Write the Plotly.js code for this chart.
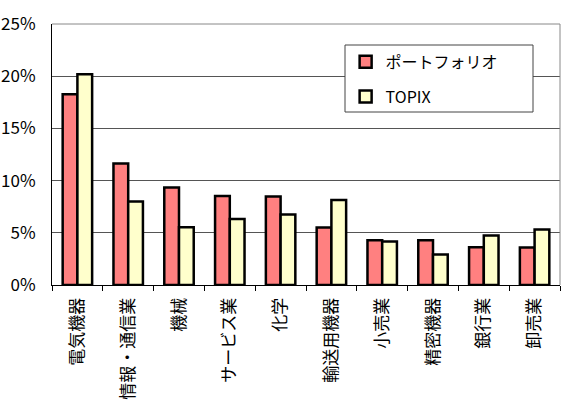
<!DOCTYPE html>
<html><head><meta charset="utf-8">
<script src="https://cdn.plot.ly/plotly-3.0.1.min.js"></script>
<style>body{margin:0;background:#fff}#c{width:565px;height:405px}</style>
</head><body><div id="c"></div>
<script>
const categories = ["電気機器","情報・通信業","機械","サービス業","化学","輸送用機器","小売業","精密機器","銀行業","卸売業"];
const portfolio = [18.26, 11.64, 9.34, 8.53, 8.48, 5.5, 4.29, 4.29, 3.62, 3.59];
const topix = [20.18, 8.0, 5.53, 6.33, 6.75, 8.15, 4.16, 2.92, 4.74, 5.31];
const seriesNames = ["ポートフォリオ", "TOPIX"];
const yTicks = [0, 5, 10, 15, 20, 25];
const yTickLabels = ["0%", "5%", "10%", "15%", "20%", "25%"];

const font = "'Noto Sans CJK JP', 'DejaVu Sans', sans-serif";
const traces = [
  {type:"bar", name:seriesNames[0], x:categories, y:portfolio, legendgroup:"a",
   marker:{color:"#FF8080", line:{color:"#000", width:2.5}}},
  {type:"bar", name:seriesNames[1], x:categories, y:topix, legendgroup:"b",
   marker:{color:"#FFFFCC", line:{color:"#000", width:2.5}}}
];
const layout = {
  width:565, height:405,
  margin:{l:52, r:5, t:24, b:120, pad:0},
  paper_bgcolor:"#fff", plot_bgcolor:"#fff",
  font:{family:font, color:"#000", size:14},
  barmode:"group", bargap:0.42, bargroupgap:0,
  showlegend:true,
  legend:{x:0.578, y:0.92, xanchor:"left", yanchor:"top", bgcolor:"rgba(0,0,0,0)",
    borderwidth:0, font:{size:16, family:font}, traceorder:"grouped", tracegroupgap:11,
    itemwidth:30},
  xaxis:{type:"category", tickangle:-90, ticks:"outside", tickson:"boundaries", ticklen:5,
    tickcolor:"#000", showline:true, linecolor:"#000", linewidth:1, showgrid:false,
    tickfont:{size:17, family:font}, ticklabelstandoff:5, mirror:false},
  yaxis:{range:[0,25], tickvals:yTicks, ticktext:yTickLabels, showgrid:true,
    gridcolor:"#555", gridwidth:1, showline:true, linecolor:"#000", linewidth:1,
    ticks:"", tickfont:{size:17, family:font}, ticklabelstandoff:12, zeroline:false},
  shapes:[
    {type:"line", xref:"paper", yref:"paper", x0:1, x1:1, y0:0, y1:1, line:{color:"#888", width:1}},
    {type:"line", xref:"paper", yref:"paper", x0:0, x1:1, y0:1, y1:1, line:{color:"#888", width:1}},
    {type:"rect", xref:"paper", yref:"paper", x0:(345-52)/508, x1:(533-52)/508,
     y0:(285-112)/261, y1:(285-45)/261, fillcolor:"#fff", line:{color:"#444", width:1}, layer:"above"}
  ]
};
Plotly.newPlot("c", traces, layout, {displayModeBar:false, staticPlot:true});
</script></body></html>
